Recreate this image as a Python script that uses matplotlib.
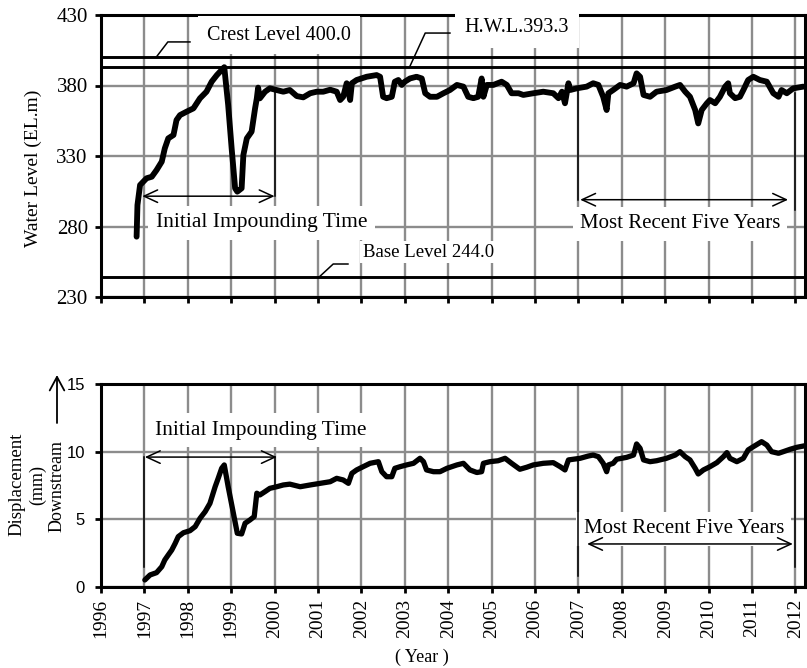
import matplotlib
matplotlib.use('Agg')
import matplotlib.pyplot as plt
from matplotlib.patches import FancyArrowPatch

# ---------------- data ----------------
years = list(range(1996, 2013))
wl_ticks = [230, 280, 330, 380, 430]
disp_ticks = [0, 5, 10, 15]

crest_level = 400.0
hwl_level = 393.3
base_level = 244.0

wl_year = [1996.82, 1996.84, 1996.90, 1997.05, 1997.17, 1997.28, 1997.40, 1997.47, 1997.55,
           1997.67, 1997.74, 1997.82, 1997.97, 1998.13, 1998.28, 1998.43, 1998.55, 1998.67,
           1998.78, 1998.84, 1998.93, 1999.01, 1999.09, 1999.14, 1999.24, 1999.28, 1999.36,
           1999.47, 1999.55, 1999.59, 1999.62, 1999.66, 1999.78, 1999.89, 2000.05, 2000.20,
           2000.35, 2000.51, 2000.66, 2000.82, 2000.97, 2001.12, 2001.28, 2001.43, 2001.51,
           2001.58, 2001.66, 2001.74, 2001.78, 2001.89, 2002.12, 2002.35, 2002.43, 2002.50,
           2002.58, 2002.70, 2002.77, 2002.85, 2002.93, 2003.00, 2003.12, 2003.27, 2003.39,
           2003.47, 2003.58, 2003.74, 2003.89, 2004.04, 2004.20, 2004.35, 2004.46, 2004.58,
           2004.69, 2004.77, 2004.81, 2004.89, 2005.04, 2005.23, 2005.35, 2005.46, 2005.62,
           2005.73, 2005.96, 2006.19, 2006.42, 2006.54, 2006.62, 2006.69, 2006.77, 2006.81,
           2006.96, 2007.19, 2007.34, 2007.46, 2007.57, 2007.65, 2007.69, 2007.80, 2007.96,
           2008.11, 2008.27, 2008.34, 2008.42, 2008.50, 2008.65, 2008.80, 2009.03, 2009.23,
           2009.34, 2009.46, 2009.57, 2009.69, 2009.76, 2009.84, 2009.96, 2010.03, 2010.15,
           2010.26, 2010.38, 2010.45, 2010.49, 2010.61, 2010.72, 2010.80, 2010.91, 2011.03,
           2011.18, 2011.34, 2011.49, 2011.61, 2011.68, 2011.80, 2011.95, 2012.18]
wl_vals = [272.8, 295.2, 309.4, 314.2, 315.3, 320.0, 326.0, 335.4, 342.5,
           344.9, 355.5, 359.0, 361.4, 363.8, 370.9, 375.6, 382.7, 387.4,
           391.0, 393.0, 366.2, 335.4, 307.1, 304.7, 307.1, 330.7, 342.5,
           347.3, 363.8, 370.9, 378.5, 370.9, 375.6, 378.0, 376.8, 375.6,
           376.8, 372.5, 371.6, 374.5, 375.6, 375.6, 377.0, 375.6, 369.7,
           372.0, 381.6, 369.7, 381.6, 383.9, 386.2, 387.4, 386.2, 372.0,
           371.0, 372.0, 382.7, 383.9, 380.4, 382.7, 385.0, 386.2, 385.0,
           374.5, 372.0, 372.0, 374.5, 376.8, 380.4, 379.2, 372.0, 371.0,
           372.0, 385.0, 372.0, 380.4, 380.4, 382.7, 380.4, 374.5, 374.5,
           373.3, 374.5, 375.6, 374.5, 371.0, 375.6, 367.4, 381.6, 376.8,
           378.0, 379.2, 381.6, 380.4, 372.0, 362.6, 374.5, 376.8, 380.4,
           379.2, 381.6, 388.6, 386.2, 373.3, 372.0, 375.6, 376.8, 379.2,
           380.4, 375.6, 372.0, 362.6, 353.1, 362.6, 367.4, 369.7, 367.4,
           372.0, 379.2, 381.6, 374.5, 371.0, 372.0, 376.8, 383.9, 386.2,
           383.9, 382.7, 374.5, 372.0, 376.8, 374.5, 378.0, 379.2]

disp_year = [1997.01, 1997.13, 1997.28, 1997.40, 1997.47, 1997.55, 1997.63, 1997.71, 1997.78,
             1997.90, 1998.05, 1998.17, 1998.28, 1998.40, 1998.51, 1998.63, 1998.70, 1998.78,
             1998.84, 1998.93, 1999.05, 1999.14, 1999.24, 1999.32, 1999.43, 1999.53, 1999.59,
             1999.66, 1999.78, 1999.89, 2000.05, 2000.20, 2000.35, 2000.59, 2000.82, 2001.05,
             2001.28, 2001.43, 2001.58, 2001.70, 2001.78, 2001.89, 2002.04, 2002.20, 2002.39,
             2002.47, 2002.58, 2002.70, 2002.77, 2002.89, 2003.04, 2003.20, 2003.35, 2003.43,
             2003.50, 2003.66, 2003.81, 2003.97, 2004.20, 2004.35, 2004.50, 2004.66, 2004.77,
             2004.81, 2004.96, 2005.15, 2005.31, 2005.46, 2005.65, 2005.81, 2005.96, 2006.19,
             2006.42, 2006.58, 2006.69, 2006.77, 2006.88, 2007.04, 2007.23, 2007.34, 2007.46,
             2007.57, 2007.65, 2007.69, 2007.80, 2007.88, 2008.11, 2008.27, 2008.34, 2008.42,
             2008.50, 2008.65, 2008.80, 2009.03, 2009.23, 2009.34, 2009.46, 2009.57, 2009.69,
             2009.76, 2009.88, 2010.03, 2010.19, 2010.34, 2010.42, 2010.49, 2010.65, 2010.80,
             2010.91, 2011.03, 2011.22, 2011.34, 2011.45, 2011.61, 2011.72, 2011.88, 2012.03,
             2012.22]
disp_vals = [0.52, 0.89, 1.06, 1.50, 2.00, 2.37, 2.73, 3.23, 3.72,
             4.01, 4.16, 4.46, 5.07, 5.57, 6.18, 7.41, 8.03, 8.77,
             9.02, 7.41, 5.45, 3.97, 3.92, 4.71, 4.95, 5.20, 6.93,
             6.80, 7.05, 7.29, 7.41, 7.54, 7.60, 7.41, 7.54, 7.66,
             7.78, 8.03, 7.91, 7.66, 8.40, 8.65, 8.89, 9.14, 9.26,
             8.52, 8.15, 8.15, 8.77, 8.89, 9.02, 9.14, 9.51, 9.26,
             8.65, 8.52, 8.52, 8.77, 9.02, 9.14, 8.65, 8.46, 8.52,
             9.14, 9.26, 9.33, 9.51, 9.14, 8.70, 8.85, 9.02, 9.14,
             9.19, 8.89, 8.65, 9.39, 9.44, 9.51, 9.68, 9.75, 9.63,
             9.14, 8.52, 9.02, 9.14, 9.44, 9.58, 9.75, 10.57, 10.25,
             9.39, 9.26, 9.33, 9.51, 9.75, 10.00, 9.63, 9.39, 8.77,
             8.35, 8.65, 8.89, 9.19, 9.63, 9.93, 9.51, 9.26, 9.51,
             10.13, 10.37, 10.74, 10.49, 10.00, 9.88, 10.00, 10.18, 10.32,
             10.44]

# ---------------- figure ----------------
plt.rcParams['font.family'] = ['Liberation Serif', 'DejaVu Serif']
W, H = 807, 668
fig = plt.figure(figsize=(W / 100, H / 100), dpi=100)


def rect(x0, y0, x1, y1):
    return [x0 / W, 1 - y1 / H, (x1 - x0) / W, (y1 - y0) / H]


ax1 = fig.add_axes(rect(101, 15, 805, 297))
ax2 = fig.add_axes(rect(101, 384, 805, 587))

GRID = '#8c8c8c'
for ax in (ax1, ax2):
    ax.set_xlim(1996, 2012.22)
    ax.set_xticks(years)
    ax.grid(True, color=GRID, lw=1.7)
    ax.set_axisbelow(True)
    for s in ax.spines.values():
        s.set_linewidth(2.2)
    ax.tick_params(direction='out', length=4.5, width=2)

# ---- top: water level ----
ax1.set_ylim(230, 430)
ax1.set_yticks(wl_ticks)
ax1.tick_params(axis='x', labelbottom=False)
ax1.tick_params(axis='y', labelsize=15, pad=5)
for lvl in (crest_level, hwl_level, base_level):
    ax1.axhline(lvl, color='k', lw=2.1, zorder=3)
ax1.plot(wl_year, wl_vals, color='k', lw=4.2, zorder=4,
         solid_joinstyle='round', solid_capstyle='round')

box = dict(boxstyle='square,pad=0.35', fc='white', ec='none')
ax1.text(2000.09, 415.8, 'Crest Level 400.0', ha='center', va='center', fontsize=14.5,
         bbox=dict(boxstyle='square,pad=0.45', fc='white', ec='none'), zorder=5)
ax1.text(2005.58, 420.8, 'H.W.L.393.3', ha='center', va='center', fontsize=14.5,
         bbox=dict(boxstyle='square,pad=0.5', fc='white', ec='none'), zorder=5)
ax1.text(2002.04, 261.9, 'Base Level 244.0', ha='left', va='center', fontsize=13.5,
         bbox=dict(boxstyle='square,pad=0.15', fc='white', ec='none'), zorder=5)
ax1.text(1999.70, 282.5, 'Initial Impounding Time', ha='center', va='center',
         fontsize=15.5, bbox=box, zorder=5)
ax1.text(2009.34, 281.8, 'Most Recent Five Years', ha='center', va='center',
         fontsize=15, bbox=box, zorder=5)

lk = dict(color='k', lw=1.1, zorder=6, clip_on=False)
ax1.plot([1997.27, 1997.54, 1998.05], [400.0, 410.9, 410.9], **lk)
ax1.plot([2003.12, 2003.47, 2004.04], [393.8, 417.2, 417.2], **lk)
ax1.plot([2001.02, 2001.35, 2001.69], [244.0, 253.4, 253.4], **lk)


def arrow(ax, x0, x1, y):
    ax.add_patch(FancyArrowPatch((x0, y), (x1, y),
                                 arrowstyle='<->,head_length=0.65,head_width=0.3',
                                 mutation_scale=15, lw=1.1, color='k', zorder=6,
                                 shrinkA=0, shrinkB=0))


ax1.plot([2000.0, 2000.0], [376.5, 301.5], **lk)
arrow(ax1, 1996.95, 2000.0, 301.5)
ax1.plot([2007.0, 2007.0], [378.0, 299.0], **lk)
arrow(ax1, 2007.04, 2011.83, 299.0)
ax1.plot([2011.99, 2011.99], [374.7, 291.7], **lk)

# ---- bottom: displacement ----
ax2.set_ylim(0, 15)
ax2.set_yticks(disp_ticks)
ax2.tick_params(axis='y', labelsize=12, pad=7, labelfontfamily='Liberation Sans')
ax2.tick_params(axis='x', labelsize=14, labelrotation=90, pad=4)
ax2.plot(disp_year, disp_vals, color='k', lw=3.8, zorder=4,
         solid_joinstyle='round', solid_capstyle='round')

ax2.text(1999.69, 11.6, 'Initial Impounding Time', ha='center', va='center',
         fontsize=15.5, bbox=box, zorder=5)
ax2.text(2009.43, 4.3, 'Most Recent Five Years', ha='center', va='center',
         fontsize=15, bbox=box, zorder=5)

ax2.plot([1997.0, 1997.0], [9.6, 1.5], **lk)
ax2.plot([2000.0, 2000.0], [9.6, 7.3], **lk)
arrow(ax2, 1997.01, 2000.05, 9.6)
ax2.plot([2007.0, 2007.0], [9.6, 0.8], **lk)
ax2.plot([2011.99, 2011.99], [10.35, 1.5], **lk)
arrow(ax2, 2007.2, 2011.94, 3.18)

# ---- axis labels ----
fig.text(33 / W, 1 - 168 / H, 'Water Level (EL.m)', rotation=90, ha='center',
         va='center', fontsize=14)
fig.text(17 / W, 1 - 484 / H, 'Displacement', rotation=90, ha='center', va='center',
         fontsize=13.5)
fig.text(37.5 / W, 1 - 485 / H, '(mm)', rotation=90, ha='center', va='center',
         fontsize=13)
fig.text(57.5 / W, 1 - 486 / H, 'Downstream', rotation=90, ha='center', va='center',
         fontsize=13)
fig.add_artist(FancyArrowPatch((57 / W, 1 - 423 / H), (57 / W, 1 - 375 / H),
                               transform=fig.transFigure,
                               arrowstyle='->,head_length=0.65,head_width=0.35',
                               mutation_scale=15, lw=1.3, color='k',
                               shrinkA=0, shrinkB=0))
fig.text(422 / W, 1 - 657 / H, '( Year )', ha='center', va='center', fontsize=13)

fig.savefig('out.png', dpi=100)
